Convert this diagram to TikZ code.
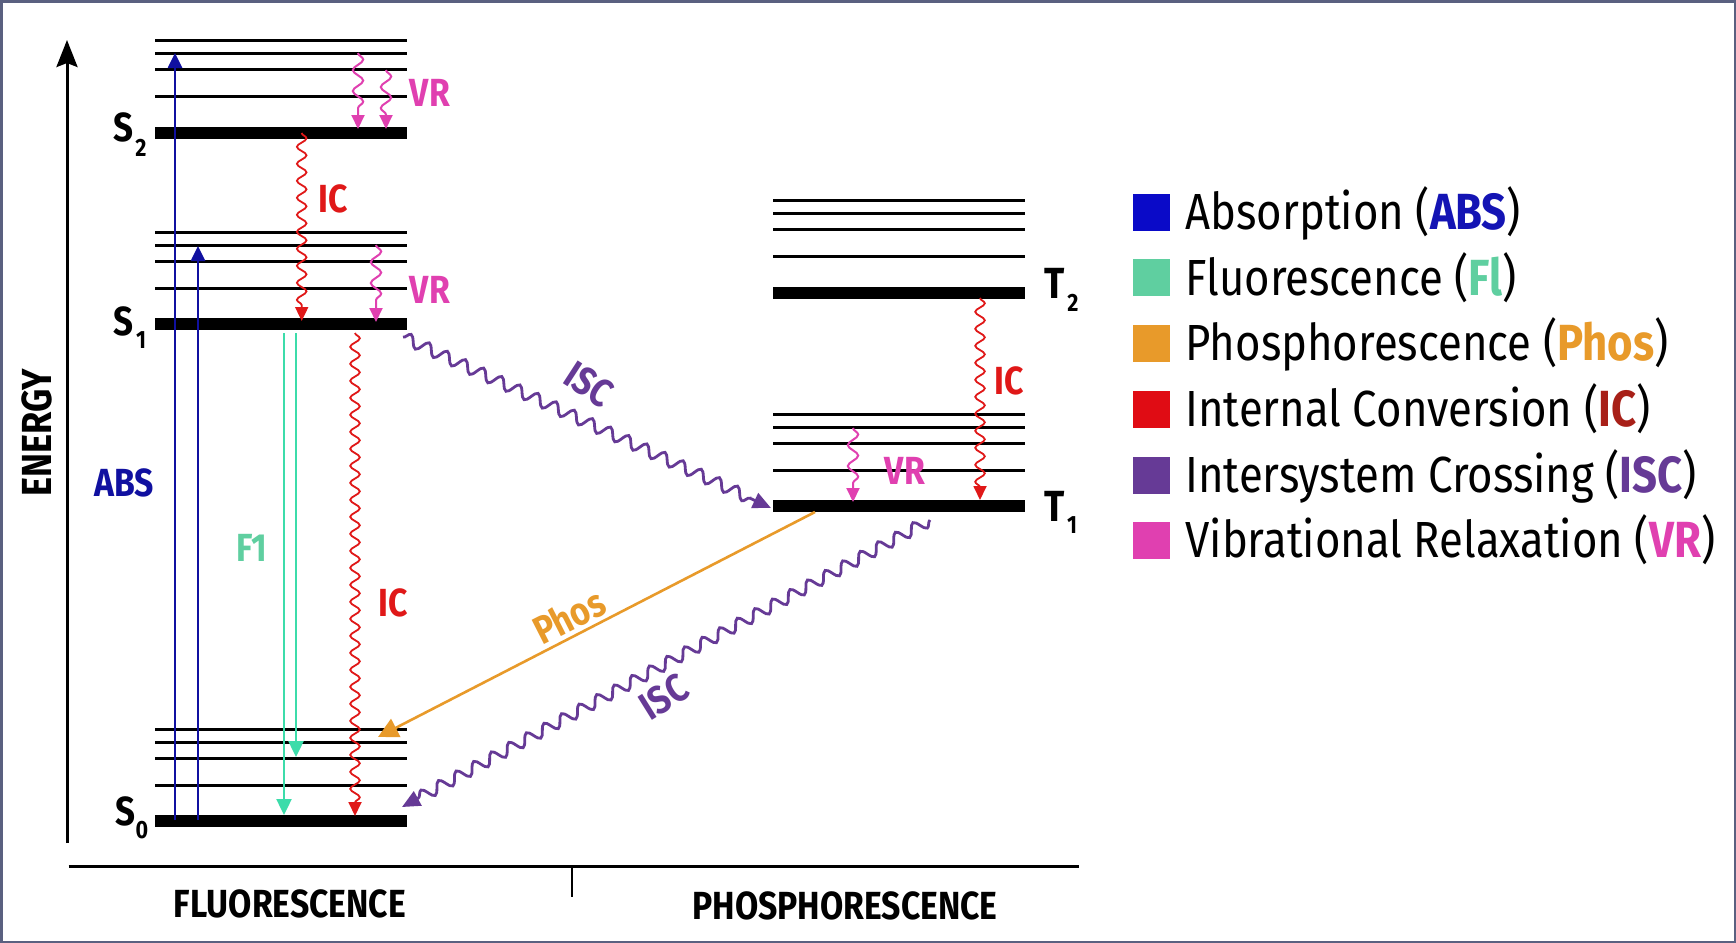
\documentclass[tikz,border=0pt]{standalone}
\usepackage{fontspec}
\setmainfont[FakeStretch=0.86]{Fira Sans}
\usetikzlibrary{arrows.meta,decorations.pathmorphing}
\definecolor{absblue}{HTML}{1010A0}
\definecolor{abssq}{HTML}{0A0AC8}
\definecolor{abstxt}{HTML}{1414B4}
\definecolor{flgreen}{HTML}{3CDCAA}
\definecolor{flsq}{HTML}{5FCFA0}
\definecolor{phosor}{HTML}{E89A2A}
\definecolor{icred}{HTML}{E01818}
\definecolor{icsq}{HTML}{E00C14}
\definecolor{icdark}{HTML}{A82018}
\definecolor{iscpur}{HTML}{663A96}
\definecolor{vrpink}{HTML}{E040B0}
\definecolor{framec}{HTML}{5A6080}
\begin{document}
\begin{tikzpicture}[x=0.5pt,y=-0.5pt,
  thinlev/.style={line width=1.5pt},
  thicklev/.style={line width=6pt},
  absarrow/.style={draw=absblue, line width=1.3pt, -{Triangle[length=7.5pt,width=7pt]}},
  flarrow/.style={draw=flgreen, line width=1.2pt, -{Triangle[length=8pt,width=7.5pt]}},
  icwave/.style={draw=icred, line width=0.9pt, decorate,
     decoration={snake, amplitude=2.4pt, segment length=8.5pt, post length=6pt},
     -{Triangle[length=7pt,width=6.5pt]}},
  vrwave/.style={draw=vrpink, line width=1pt, decorate,
     decoration={snake, amplitude=2.6pt, segment length=10.5pt, post length=6pt},
     -{Triangle[length=7pt,width=6.5pt]}},
  iscwave/.style={draw=iscpur, line width=1.4pt, decorate,
     decoration={snake, amplitude=2.9pt, segment length=10pt, post length=7pt},
     -{Triangle[length=9pt,width=8pt]}},
  phosarrow/.style={draw=phosor, line width=1.3pt, -{Triangle[length=10pt,width=10pt]}},
  lab/.style={inner sep=0pt, font=\bfseries\fontsize{19.6}{20}\selectfont},
  statelab/.style={inner sep=0pt, font=\bfseries\fontsize{20.3}{21}\selectfont},
  sublab/.style={inner sep=0pt, font=\bfseries\fontsize{12.5}{13}\selectfont},
  legtxt/.style={inner sep=0pt, anchor=base west, font=\fontsize{25.4}{30}\selectfont},
  legsq/.style={minimum width=18.5pt, minimum height=18.5pt, inner sep=0pt}
]
\useasboundingbox (0,0) rectangle (1736,943);
\fill[white] (0,0) rectangle (1736,943);
\draw[framec, line width=1.25pt] (1.25,1.25) rectangle (1734.75,941.75);

% axes
\coordinate (eb) at (67,843);
\coordinate (et) at (67,40);
\draw[line width=1.5pt, -{Stealth[length=13.5pt,width=10.5pt,inset=2pt]}] (eb) -- (et);
\coordinate (xl) at (68.5,866);
\coordinate (xr) at (1079,866);
\draw[line width=1.5pt] (xl) -- (xr);
\coordinate (tk1) at (572,866);
\coordinate (tk2) at (572,897);
\draw[line width=1.3pt] (tk1) -- (tk2);
\node[lab, rotate=90, font=\bfseries\fontsize{21}{22}\selectfont] (energy) at (37,433) {ENERGY};
\node[lab] (fluo) at (290,904) {FLUORESCENCE};
\node[lab] (phosph) at (845,906) {PHOSPHORESCENCE};

% singlet levels
\foreach \t in {40.7,232,729}{
  \foreach \o in {0,13,29,56}{ \draw[thinlev] (155,\t+\o) -- (406.7,\t+\o); }
  \draw[thicklev] (155,\t+92) -- (406.7,\t+92);
}
% triplet levels
\foreach \t in {200.7,414}{
  \foreach \o in {0,13,29,56}{ \draw[thinlev] (773,\t+\o) -- (1025,\t+\o); }
  \draw[thicklev] (773,\t+92) -- (1025,\t+92);
}

% state labels
\node[statelab] (S2l) at (123,127) {S};
\node[sublab] (S2s) at (141,148) {2};
\node[statelab] (S1l) at (123,321) {S};
\node[sublab] (S1s) at (141,340) {1};
\node[statelab] (S0l) at (125,811) {S};
\node[sublab] (S0s) at (142,830) {0};
\node[statelab, font=\bfseries\fontsize{21.8}{22}\selectfont] (T2l) at (1055,283) {T};
\node[sublab] (T2s) at (1073,303) {2};
\node[statelab, font=\bfseries\fontsize{21.8}{22}\selectfont] (T1l) at (1055,506) {T};
\node[sublab] (T1s) at (1072,525) {1};

% absorption
\coordinate (a1s) at (175,820); \coordinate (a1e) at (175,53);
\coordinate (a2s) at (198,820); \coordinate (a2e) at (198,246);
\draw[absarrow] (a1s) -- (a1e);
\draw[absarrow] (a2s) -- (a2e);
\node[lab, text=absblue] (abs) at (124,483) {ABS};

% fluorescence
\coordinate (f1s) at (284,333); \coordinate (f1e) at (284,815);
\coordinate (f2s) at (296,333); \coordinate (f2e) at (296,757);
\draw[flarrow] (f1s) -- (f1e);
\draw[flarrow] (f2s) -- (f2e);
\node[lab, text=flsq] (flab) at (252,548) {F1};

% internal conversion
\coordinate (ic1s) at (301.7,133); \coordinate (ic1e) at (301.7,321);
\draw[icwave] (ic1s) -- (ic1e);
\node[lab, text=icred] (iclab1) at (333,198.5) {IC};
\coordinate (ic2s) at (355,333); \coordinate (ic2e) at (355,816);
\draw[icwave] (ic2s) -- (ic2e);
\node[lab, text=icred] (iclab2) at (393,603) {IC};
\coordinate (ic3s) at (980,298); \coordinate (ic3e) at (980,500);
\draw[icwave] (ic3s) -- (ic3e);
\node[lab, text=icred] (iclab3) at (1009,381) {IC};

% vibrational relaxation
\coordinate (vr1s) at (358,53); \coordinate (vr1e) at (358,129);
\coordinate (vr2s) at (386,70); \coordinate (vr2e) at (386,129);
\draw[vrwave] (vr1s) -- (vr1e);
\draw[vrwave] (vr2s) -- (vr2e);
\node[lab, text=vrpink] (vrlab1) at (430,93) {VR};
\coordinate (vr3s) at (376,245); \coordinate (vr3e) at (376,322);
\draw[vrwave] (vr3s) -- (vr3e);
\node[lab, text=vrpink] (vrlab2) at (430,290) {VR};
\coordinate (vr4s) at (853,428); \coordinate (vr4e) at (853,502);
\draw[vrwave] (vr4s) -- (vr4e);
\node[lab, text=vrpink] (vrlab3) at (905,471) {VR};

% intersystem crossing
\coordinate (isc1s) at (403,337); \coordinate (isc1e) at (771,508);
\draw[iscwave] (isc1s) -- (isc1e);
\node[lab, text=iscpur, rotate=-33] (isclab1) at (589,384) {ISC};
\coordinate (isc2s) at (930,520); \coordinate (isc2e) at (402,807);
\draw[iscwave] (isc2s) -- (isc2e);
\node[lab, text=iscpur, rotate=32] (isclab2) at (664,697) {ISC};

% phosphorescence
\coordinate (phs) at (815,512); \coordinate (phe) at (378,737);
\draw[phosarrow] (phs) -- (phe);
\node[lab, text=phosor, rotate=27] (phlab) at (569,616) {Phos};

% legend
\node[legsq, fill=abssq] (sq1) at (1151.5,212) {};
\node[legsq, fill=flsq] (sq2) at (1151.5,277.5) {};
\node[legsq, fill=phosor] (sq3) at (1151.5,343) {};
\node[legsq, fill=icsq] (sq4) at (1151.5,409) {};
\node[legsq, fill=iscpur] (sq5) at (1151.5,475) {};
\node[legsq, fill=vrpink] (sq6) at (1151.5,540) {};
\node[legtxt] (lg1) at (1185,229.5) {Absorption (\textbf{\color{abstxt}ABS})};
\node[legtxt] (lg2) at (1185,295) {Fluorescence (\textbf{\color{flsq}Fl})};
\node[legtxt] (lg3) at (1185,360.5) {Phosphorescence (\textbf{\color{phosor}Phos})};
\node[legtxt] (lg4) at (1185,426.5) {Internal Conversion (\textbf{\color{icdark}IC})};
\node[legtxt] (lg5) at (1185,492.5) {Intersystem Crossing (\textbf{\color{iscpur}ISC})};
\node[legtxt] (lg6) at (1185,557.5) {Vibrational Relaxation (\textbf{\color{vrpink}VR})};
\end{tikzpicture}
\end{document}
